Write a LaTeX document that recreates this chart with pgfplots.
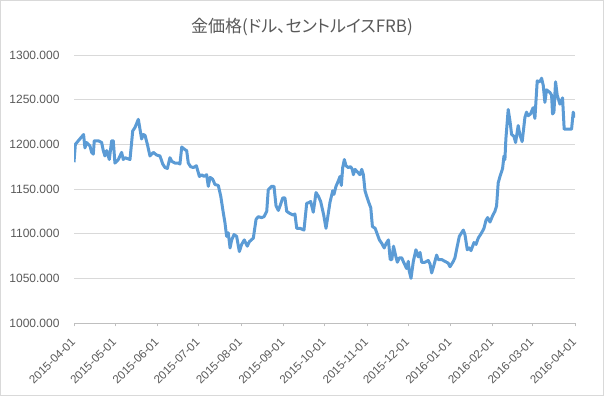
\documentclass[border=0pt]{standalone}
\usepackage{pgfplots}
\pgfplotsset{compat=1.18}
\usepackage{fontspec}
\setmainfont{Noto Sans CJK JP}
\newfontfamily\titlefont[RawFeature=+palt]{Noto Sans CJK JP}
\newfontfamily\numfont{Liberation Sans}
\definecolor{txt}{HTML}{595959}
\definecolor{grid}{HTML}{D9D9D9}
\definecolor{axl}{HTML}{BFBFBF}
\definecolor{ln}{HTML}{5B9BD5}
\begin{document}
\begin{tikzpicture}
\useasboundingbox (0,0) rectangle (604bp,396bp);
\draw[color=grid, line width=0.8bp] (0.5bp,0.5bp) rectangle (603.5bp,395.5bp);
\node[text=txt, font=\titlefont\fontsize{17bp}{20bp}\selectfont] at (302bp,369bp) {金価格(ドル、セントルイスFRB)};
\begin{axis}[
  at={(74bp,73bp)}, anchor=south west,
  scale only axis, width=501bp, height=268bp,
  xmin=0, xmax=366, ymin=1000, ymax=1300,
  axis x line*=bottom, axis y line*=left,
  y axis line style={draw=none},
  x axis line style={color=axl, line width=0.8bp, -},
  ytick={1000,1050,...,1300},
  ytick style={draw=none},
  ymajorgrids, grid style={color=grid, line width=0.8bp},
  xtick={0,30,61,91,122,153,183,214,244,275,306,335,366},
  xticklabels={2015-04-01,2015-05-01,2015-06-01,2015-07-01,2015-08-01,2015-09-01,2015-10-01,2015-11-01,2015-12-01,2016-01-01,2016-02-01,2016-03-01,2016-04-01},
  xtick style={color=axl, line width=0.8bp},
  tick align=outside, major tick length=3.5bp,
  xticklabel style={xshift=-3.8bp, yshift=-10.4bp, rotate=45, anchor=north east, font=\numfont\fontsize{11.6bp}{14bp}\selectfont, text=txt, inner sep=0pt},
  yticklabel style={font=\numfont\fontsize{12bp}{14bp}\selectfont, text=txt, xshift=-7.5bp},
  /pgf/number format/.cd, fixed, zerofill, precision=3, 1000 sep={}, assume math mode=true,
]
\addplot[color=ln, line width=3bp, line join=round, mark=none] coordinates {
(0,1180)(1,1200)(7,1211)(8,1196)(9.3,1202)(11.7,1198)(12.9,1191)(14.1,1189)(14.8,1204)(17.8,1204)
(20.2,1202)(21.4,1193)(22.6,1187)(23.9,1193)(25.8,1183)(27.5,1204)(28.7,1204)(29.9,1179)(32.4,1183)
(34.8,1191)(36.0,1183)(37.3,1185)(40.9,1183)(42.9,1215)(44.6,1219)(47.0,1228)(48.2,1217)(49.4,1206)
(50.6,1211)(51.9,1210)(53.6,1200)(55.5,1187)(57.9,1191)(60.4,1188)(62.8,1187)(64.8,1178)(66.5,1174)
(68.2,1173)(70.1,1185)(71.4,1181)(73.8,1179)(76.2,1179)(77.4,1178)(78.7,1197)(81.1,1194)(82.3,1193)
(83.5,1179)(85.2,1175)(87.2,1174)(89.4,1176)(91.6,1164)(93.3,1166)(95.0,1164)(96.9,1166)(98.1,1153)
(99.4,1163)(101.3,1161)(103.0,1155)(105.4,1154)(107.2,1142)(109.1,1123)(110.3,1112)(111.5,1097)
(112.7,1101)(114.0,1084)(115.2,1093)(116.9,1099)(118.8,1097)(120.8,1080)(122.5,1088)(124.4,1093)
(126.6,1086)(128.1,1091)(131.0,1095)(133.0,1116)(134.6,1119)(137.1,1118)(138.8,1119)(140.8,1125)
(141.9,1149)(144.4,1153)(146.1,1153)(147.6,1131)(149.3,1126)(150.5,1131)(152.5,1140)(154.1,1140)
(155.4,1125)(157.3,1123)(159.8,1121)(161.4,1122)(162.7,1106)(165.1,1106)(168.0,1104)(170.0,1134)
(171.9,1135)(172.9,1136)(174.8,1124)(176.8,1146)(178.5,1142)(180.2,1136)(182.4,1121)(184.1,1106)
(185.8,1123)(187.0,1135)(189.0,1148)(189.9,1144)(191.4,1153)(193.1,1159)(194.3,1164)(195.3,1154)
(196.3,1174)(197.5,1183)(198.7,1176)(200.4,1174)(202.1,1175)(203.3,1172)(204.1,1166)(205.3,1172)
(206.5,1170)(207.7,1168)(208.9,1166)(210.2,1172)(211.4,1166)(212.6,1148)(213.8,1142)(215.8,1133)
(216.8,1129)(218.0,1108)(220.0,1106)(221.2,1101)(223.1,1093)(224.9,1089)(226.6,1084)(228.0,1089)
(229.7,1093)(231.0,1071)(232.2,1071)(233.4,1086)(235.2,1074)(236.2,1068)(237.7,1073)(239.4,1073)
(241.1,1067)(243.0,1061)(244.2,1069)(244.9,1058)(246.2,1050)(247.9,1069)(249.8,1082)(251.5,1074)
(252.8,1079)(254.0,1068)(256.4,1068)(258.8,1070)(260.1,1066)(261.3,1056)(263.0,1065)(264.9,1076)
(266.1,1071)(268.6,1071)(271.0,1069)(273.4,1067)(274.7,1063)(277.1,1069)(278.3,1073)(280.0,1086)
(281.5,1097)(284.4,1104)(285.6,1099)(287.3,1082)(288.8,1084)(290.0,1081)(292.2,1090)(293.7,1088)
(295.3,1095)(297.8,1101)(299.5,1106)(301.0,1115)(302.2,1118)(303.9,1113)(305.8,1120)(307.5,1125)
(308.7,1131)(309.9,1157)(311.2,1164)(313.1,1173)(314.1,1187)(314.8,1183)(315.5,1206)(317.2,1239)
(318.5,1226)(319.7,1211)(321.4,1209)(322.6,1202)(324.5,1221)(325.7,1211)(327.4,1203)(329.4,1230)
(330.6,1236)(331.8,1232)(333.5,1234)(335.4,1241)(336.7,1229)(338.4,1271)(340.3,1270)(341.6,1274)
(342.8,1266)(344.0,1247)(345.2,1261)(347.7,1258)(348.9,1255)(349.6,1234)(350.6,1236)(351.8,1270)
(353.0,1255)(355.0,1245)(356.9,1252)(358.1,1217)(363.5,1217)(364.7,1236)(366,1230)
};
\end{axis}
\end{tikzpicture}
\end{document}
